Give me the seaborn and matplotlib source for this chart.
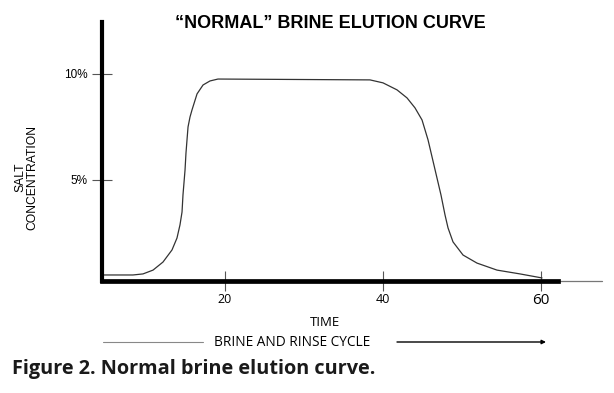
import matplotlib
matplotlib.use("Agg")
import matplotlib.pyplot as plt
from matplotlib.lines import Line2D
import seaborn as sns
import pandas as pd

# data (time, salt concentration %)
time = [4.43, 8.35, 9.62, 10.89, 12.15, 13.29, 13.92, 14.30, 14.56, 14.68,
        14.94, 15.06, 15.19, 15.32, 15.57, 15.82, 16.46, 17.22, 18.10, 19.11,
        38.35, 40.00, 41.77, 43.04, 44.05, 44.94, 45.32, 45.70, 47.34, 47.85,
        48.23, 48.86, 50.13, 51.90, 54.43, 57.34, 60.13]
conc = [0.52, 0.52, 0.57, 0.75, 1.13, 1.70, 2.26, 2.88, 3.49, 4.29,
        5.47, 6.27, 6.89, 7.50, 7.97, 8.30, 9.06, 9.48, 9.67, 9.76,
        9.72, 9.58, 9.25, 8.87, 8.40, 7.83, 7.36, 6.89, 4.29, 3.35,
        2.74, 2.08, 1.46, 1.08, 0.75, 0.57, 0.38]
x_ticks = [20, 40, 60]
y_ticks = [5, 10]
y_tick_labels = ["5%", "10%"]

df = pd.DataFrame({"time": time, "conc": conc})

sns.set_style("white")
plt.rcParams['font.family'] = ['Liberation Sans', 'DejaVu Sans']
plt.rcParams['text.color'] = 'black'
plt.rcParams['xtick.color'] = '#555555'
plt.rcParams['ytick.color'] = '#555555'
plt.rcParams['xtick.labelcolor'] = 'black'
plt.rcParams['ytick.labelcolor'] = 'black'

fig = plt.figure(figsize=(6.14, 3.93), dpi=100)
ax = fig.add_axes([102/614, 1 - 281/393, 500/614, 259/393])

sns.lineplot(data=df, x="time", y="conc", ax=ax, color="#333333", lw=0.9,
             estimator=None, sort=False)

ax.set_xlim(4.43, 67.72)
ax.set_ylim(0.236, 12.45)

for s in ["top", "right"]:
    ax.spines[s].set_visible(False)
ax.spines["left"].set_linewidth(3)
ax.spines["left"].set_color("black")
ax.spines["bottom"].set_linewidth(3.4)
ax.spines["bottom"].set_color("black")
ax.spines["bottom"].set_bounds(4.43, 62.15)
# thin continuation of the time axis
ax.axhline(0.236, xmin=(558 - 102) / 500, xmax=1, color="#777777", lw=0.9,
           clip_on=False)

ax.set_xticks(x_ticks)
ax.set_yticks(y_ticks)
ax.set_yticklabels(y_tick_labels)
ax.tick_params(axis="both", direction="inout", length=15, width=0.8,
               bottom=True, left=True)
ax.tick_params(axis="y", pad=3, labelsize=8.5)
ax.tick_params(axis="x", pad=1, labelsize=9)
for lab in ax.get_xticklabels():
    lab.set_family(["Open Sans", "DejaVu Sans"])
ax.get_xticklabels()[-1].set_fontsize(11)
ax.set_xlabel("")
ax.set_ylabel("")

fig.text(330/614, 1 - 24/393, "\u201cNORMAL\u201d BRINE ELUTION CURVE",
         ha="center", va="center", fontsize=13, fontweight="bold")
fig.text(26/614, 1 - 177/393, "SALT\nCONCENTRATION", rotation=90,
         ha="center", va="center", fontsize=8.7, linespacing=1.0)
fig.text(325/614, 1 - 322/393, "TIME", ha="center", va="center",
         fontsize=9.5, family=["Open Sans", "DejaVu Sans"])
fig.text(292/614, 1 - 342/393, "BRINE AND RINSE CYCLE", ha="center",
         va="center", fontsize=9.8, family=["Open Sans", "DejaVu Sans"])
fig.add_artist(Line2D([103/614, 203/614], [1 - 342/393, 1 - 342/393],
                      color="#888888", lw=0.8))
ax.annotate("", xy=(546/614, 1 - 342/393), xytext=(397/614, 1 - 342/393),
            xycoords="figure fraction", textcoords="figure fraction",
            arrowprops=dict(arrowstyle="-|>", lw=1.0, color="black",
                            mutation_scale=6, shrinkA=0, shrinkB=0))
fig.text(12/614, 1 - 369/393, "Figure 2. Normal brine elution curve.",
         ha="left", va="center", fontsize=14.3, fontweight="bold",
         family=["Open Sans", "DejaVu Sans"], color="#1a1a1a")

fig.savefig("out.png", dpi=100)
